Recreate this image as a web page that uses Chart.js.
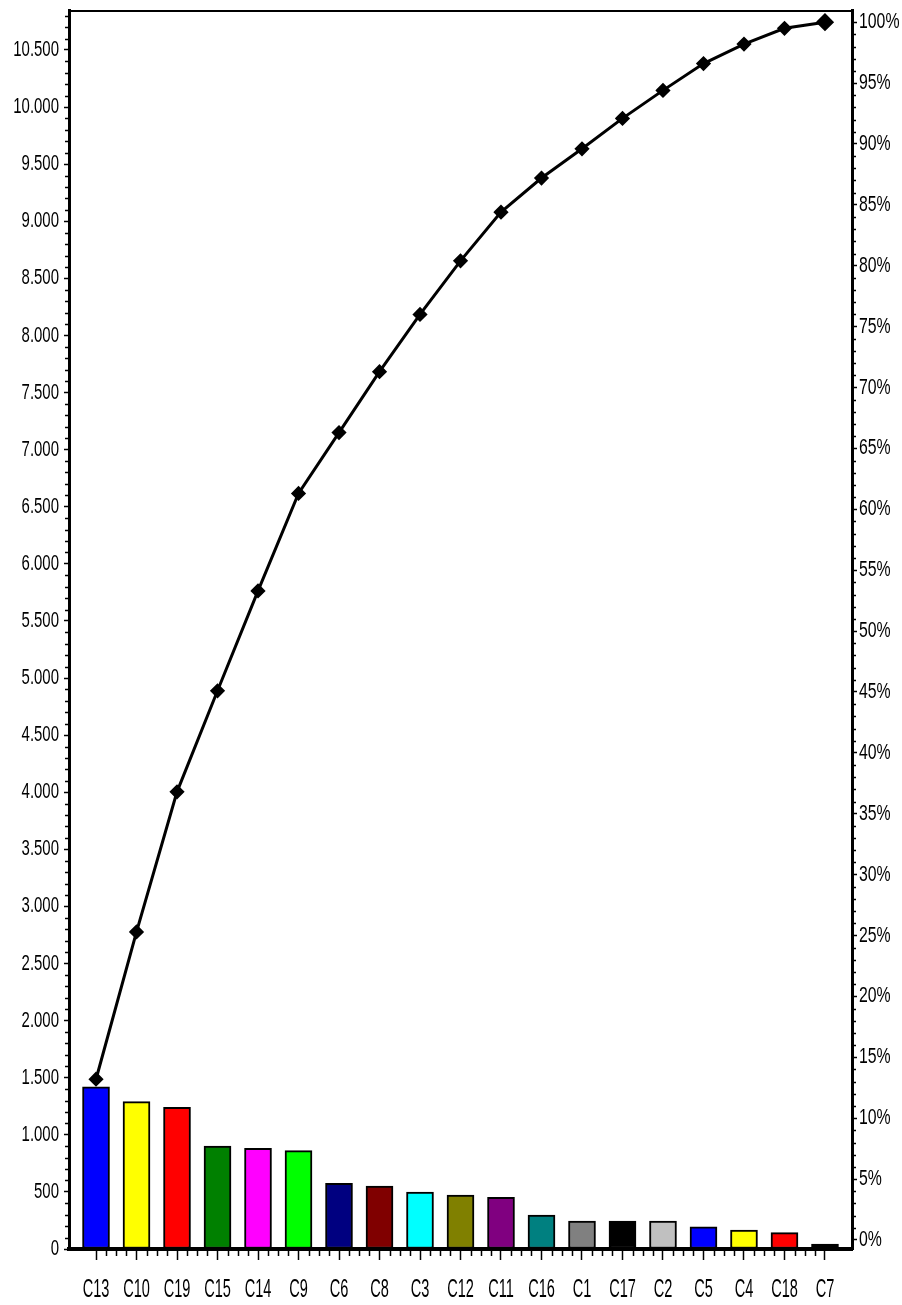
<!DOCTYPE html>
<html>
<head>
<meta charset="utf-8">
<script src="https://cdn.jsdelivr.net/npm/chart.js@4/dist/chart.umd.min.js"></script>
<style>
  html, body { margin: 0; padding: 0; background: #ffffff; }
  #wrap { width: 902px; height: 1305px; position: relative; }
</style>
</head>
<body>
<div id="wrap"><canvas id="c" width="902" height="1305"></canvas></div>
<script>
// ---- data ----
const categories = ['C13','C10','C19','C15','C14','C9','C6','C8','C3','C12','C11','C16','C1','C17','C2','C5','C4','C18','C7'];
const counts = [1420, 1290, 1241, 902, 882, 861, 575, 552, 499, 473, 453, 298, 245, 245, 245, 195, 166, 143, 44];
const cumulativePct = [13.2, 25.3, 36.8, 45.1, 53.3, 61.3, 66.3, 71.3, 76.0, 80.4, 84.4, 87.2, 89.6, 92.1, 94.4, 96.6, 98.2, 99.5, 100];
const barColors = ['#0000ff','#ffff00','#ff0000','#008000','#ff00ff','#00ff00','#000080','#800000','#00ffff','#808000','#800080','#008080','#808080','#000000','#c0c0c0','#0000ff','#ffff00','#ff0000','#000000'];
const leftTicks = [0,500,1000,1500,2000,2500,3000,3500,4000,4500,5000,5500,6000,6500,7000,7500,8000,8500,9000,9500,10000,10500];
const rightTicks = [0,5,10,15,20,25,30,35,40,45,50,55,60,65,70,75,80,85,90,95,100];

const FONT = '"Liberation Sans", Arial, sans-serif';
const labelSqueeze = { x: 0.56, y: 0.68, y1: 0.72 };

// draws the axis labels horizontally condensed (narrow typeface look)
const condensedLabels = {
  id: 'condensedLabels',
  beforeDraw(chart) {
    Object.values(chart.scales).forEach((scale) => {
      if (scale._condPatched) return;
      scale._condPatched = true;
      const orig = scale.drawLabels;
      scale.drawLabels = function (ca) {
        const ctx = this.ctx;
        const rot = ctx.rotate;
        const sx = labelSqueeze[this.id] || 1;
        ctx.rotate = function (a) { rot.call(this, a); this.scale(sx, 1); };
        try { orig.call(this, ca); } finally { ctx.rotate = rot; }
      };
    });
  }
};

const minorTicks = {
  id: 'minorTicks',
  afterDraw(chart) {
    const ctx = chart.ctx;
    const ca = chart.chartArea;
    const y = chart.scales.y, y1 = chart.scales.y1, x = chart.scales.x;
    ctx.save();
    ctx.strokeStyle = '#000';
    ctx.beginPath();
    ctx.lineWidth = 2;
    ctx.moveTo(ca.left, ca.top + 1);
    ctx.lineTo(ca.right, ca.top + 1);
    ctx.stroke();
    ctx.lineWidth = 1.5;
    ctx.beginPath();
    for (let v = 100; v < y.max; v += 100) {
      if (v % 500 === 0) continue;
      const py = Math.round(y.getPixelForValue(v)) + 0.5;
      ctx.moveTo(ca.left - 4, py); ctx.lineTo(ca.left - 1, py);
    }
    for (let v = 1; v < 100; v += 1) {
      if (v % 5 === 0) continue;
      const py = Math.round(y1.getPixelForValue(v)) + 0.5;
      ctx.moveTo(ca.right + 1, py); ctx.lineTo(ca.right + 4, py);
    }
    for (let i = 0; i < categories.length - 1; i++) {
      for (const f of [0.25, 0.5, 0.75]) {
        const px = Math.round(x.getPixelForValue(i + f)) + 0.5;
        ctx.moveTo(px, ca.bottom + 2); ctx.lineTo(px, ca.bottom + 7);
      }
    }
    ctx.stroke();
    ctx.restore();
  }
};

new Chart(document.getElementById('c'), {
  type: 'bar',
  data: {
    datasets: [
      {
        type: 'line',
        label: 'Cumulative %',
        data: categories.map((c, i) => ({ x: i, y: cumulativePct[i] })),
        yAxisID: 'y1',
        xAxisID: 'x',
        borderColor: '#000',
        backgroundColor: '#000',
        borderWidth: 3,
        pointStyle: 'rectRot',
        pointRadius: (ctx) => ctx.dataIndex === categories.length - 1 ? 7 : 5.5,
        pointBackgroundColor: '#000',
        pointBorderColor: '#000',
        tension: 0,
        order: 0
      },
      {
        type: 'bar',
        label: 'Count',
        data: categories.map((c, i) => ({ x: i, y: counts[i] })),
        yAxisID: 'y',
        xAxisID: 'x',
        backgroundColor: barColors,
        borderColor: '#000',
        borderWidth: 2,
        borderSkipped: false,
        barThickness: 27,
        order: 1
      }
    ]
  },
  options: {
    responsive: false,
    animation: false,
    devicePixelRatio: 1,
    layout: { padding: { top: 9, left: 0, right: 0, bottom: 0 } },
    plugins: { legend: { display: false }, tooltip: { enabled: false } },
    scales: {
      x: {
        type: 'linear',
        offset: false,
        min: -0.667,
        max: 18.667,
        afterBuildTicks: (s) => { s.ticks = categories.map((c, i) => ({ value: i })); },
        afterFit: (s) => { s.height = 56; s.paddingLeft = 0; s.paddingRight = 0; },
        grid: { display: true, offset: false, drawOnChartArea: false, drawTicks: true, tickLength: 11, tickColor: '#000', tickWidth: 1.5 },
        border: { display: true, color: '#000', width: 4 },
        ticks: {
          autoSkip: false,
          maxRotation: 0,
          padding: 14,
          color: '#000',
          font: { family: FONT, size: 26 },
          callback: (v) => categories[Math.round(v)] ?? ''
        }
      },
      y: {
        type: 'linear',
        position: 'left',
        min: 0,
        max: 10850,
        afterBuildTicks: (s) => { s.ticks = leftTicks.map(v => ({ value: v })); },
        afterFit: (s) => { s.width = 69; s.paddingTop = 0; s.paddingBottom = 0; },
        grid: { display: true, drawOnChartArea: false, drawTicks: true, tickLength: 5, tickColor: '#000', tickWidth: 1.5 },
        border: { display: true, color: '#000', width: 3 },
        ticks: {
          padding: 5,
          color: '#000',
          font: { family: FONT, size: 22 },
          callback: (v) => v.toLocaleString('de-DE')
        }
      },
      y1: {
        type: 'linear',
        position: 'right',
        min: -0.74,
        max: 101.0,
        afterBuildTicks: (s) => { s.ticks = rightTicks.map(v => ({ value: v })); },
        afterFit: (s) => { s.width = 50; s.paddingTop = 0; s.paddingBottom = 0; },
        grid: { display: true, drawOnChartArea: false, drawTicks: true, tickLength: 5, tickColor: '#000', tickWidth: 1.5 },
        border: { display: true, color: '#000', width: 3 },
        ticks: {
          padding: 2,
          color: '#000',
          font: { family: FONT, size: 22 },
          callback: (v) => v + '%'
        }
      }
    }
  },
  plugins: [condensedLabels, minorTicks]
});
</script>
</body>
</html>
